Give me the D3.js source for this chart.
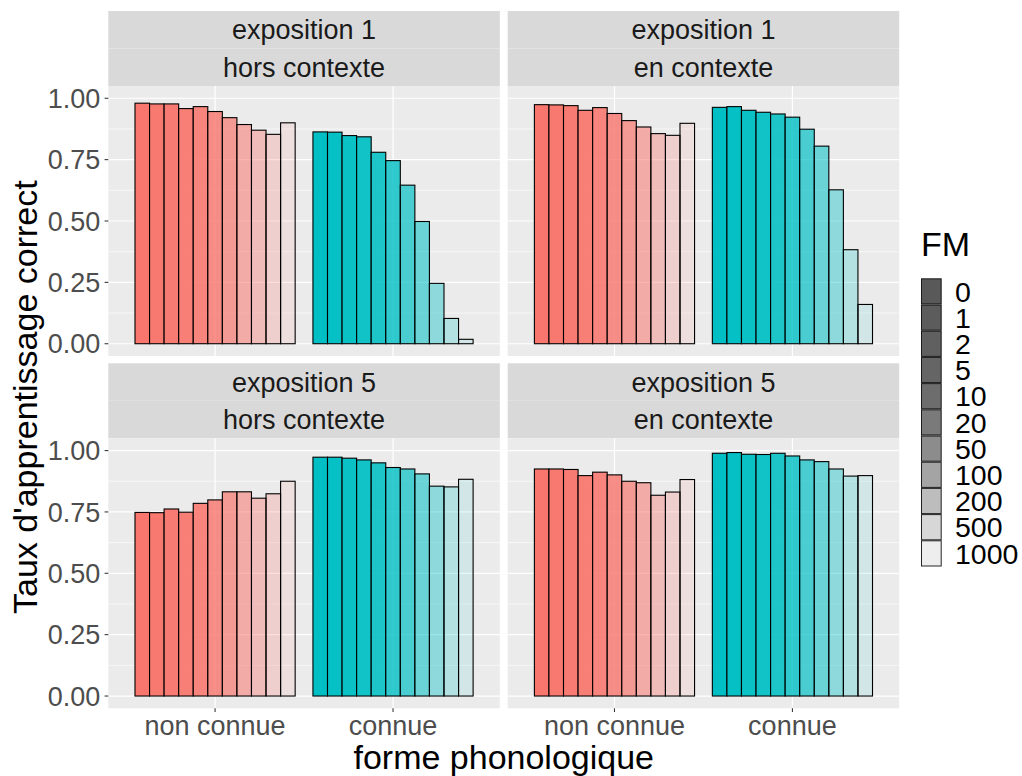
<!DOCTYPE html>
<html>
<head>
<meta charset="utf-8">
<script src="https://cdn.jsdelivr.net/npm/d3@7"></script>
<style>
  html, body { margin: 0; padding: 0; background: #ffffff; }
  svg { display: block; font-family: "Liberation Sans", Arial, Helvetica, sans-serif; }
</style>
</head>
<body>
<svg id="chart" width="1022" height="776"></svg>
<script>
// ---------- data ----------
const formes = ["non connue", "connue"];
const fmLevels = ["0", "1", "2", "5", "10", "20", "50", "100", "200", "500", "1000"];
const fmAlpha = [1, 0.98, 0.96, 0.93, 0.88, 0.8, 0.69, 0.55, 0.4, 0.24, 0.1];
const yTicks = [0, 0.25, 0.5, 0.75, 1];
const yTickLabels = ["0.00", "0.25", "0.50", "0.75", "1.00"];
const yMinor = [0.125, 0.375, 0.625, 0.875];
const formeColors = ["#F8766D", "#00BFC4"];

const stripExposition = ["exposition 1", "exposition 1", "exposition 5", "exposition 5"];
const stripContexte = ["hors contexte", "en contexte", "hors contexte", "en contexte"];

const e1HorsNonConnue = [0.980, 0.977, 0.977, 0.958, 0.966, 0.946, 0.921, 0.893, 0.870, 0.853, 0.900];
const e1HorsConnue    = [0.863, 0.862, 0.848, 0.843, 0.780, 0.746, 0.646, 0.498, 0.246, 0.103, 0.018];
const e1EnNonConnue   = [0.974, 0.973, 0.970, 0.951, 0.962, 0.938, 0.909, 0.883, 0.856, 0.849, 0.898];
const e1EnConnue      = [0.963, 0.966, 0.951, 0.943, 0.936, 0.923, 0.874, 0.805, 0.627, 0.383, 0.160];
const e5HorsNonConnue = [0.748, 0.747, 0.762, 0.749, 0.785, 0.799, 0.832, 0.832, 0.806, 0.824, 0.875];
const e5HorsConnue    = [0.973, 0.973, 0.969, 0.962, 0.950, 0.931, 0.925, 0.905, 0.855, 0.852, 0.883];
const e5EnNonConnue   = [0.925, 0.925, 0.923, 0.898, 0.912, 0.901, 0.875, 0.869, 0.818, 0.831, 0.882];
const e5EnConnue      = [0.989, 0.992, 0.985, 0.984, 0.989, 0.978, 0.962, 0.955, 0.925, 0.896, 0.898];

const panelData = [
  [e1HorsNonConnue, e1HorsConnue],
  [e1EnNonConnue, e1EnConnue],
  [e5HorsNonConnue, e5HorsConnue],
  [e5EnNonConnue, e5EnConnue]
];

// ---------- layout ----------
const svg = d3.select("#chart");
const panelLefts = [108.3, 507.7];
const rowTops = [11, 363.3];
const panelW = 391.5;
const stripH = 37.5;
const panelH = 270;
const smallFont = 27;
const legendFont = 28.5;
const bigFont = 34;

const x = d3.scaleBand().domain(formes).range([0, panelW]).paddingInner(0.1).paddingOuter(0.15);
const xInner = d3.scaleBand().domain(fmLevels).range([0, x.bandwidth()]).padding(0);
const y = d3.scaleLinear().domain([-0.05, 1.05]).range([panelH, 0]);

panelData.forEach((pd, p) => {
  const col = p % 2, row = Math.floor(p / 2);
  const left = panelLefts[col];
  const stripTop = rowTops[row];
  const top = stripTop + 2 * stripH;

  // strips
  const s = svg.append("g").attr("transform", `translate(${left},${stripTop})`);
  [stripExposition[p], stripContexte[p]].forEach((t, i) => {
    s.append("rect").attr("x", 0).attr("y", i * stripH).attr("width", panelW).attr("height", stripH)
      .attr("fill", "#D9D9D9");
    s.append("text").attr("x", panelW / 2).attr("y", i * stripH + stripH / 2).attr("dy", "0.36em")
      .attr("text-anchor", "middle").attr("font-size", smallFont).attr("fill", "#1A1A1A").text(t);
  });

  const g = svg.append("g").attr("transform", `translate(${left},${top})`);
  g.append("rect").attr("width", panelW).attr("height", panelH).attr("fill", "#EBEBEB");

  // grid
  g.selectAll(".ymin").data(yMinor).enter().append("line")
    .attr("x1", 0).attr("x2", panelW).attr("y1", d => y(d)).attr("y2", d => y(d))
    .attr("stroke", "#ffffff").attr("stroke-width", 0.6);
  g.selectAll(".ymaj").data(yTicks).enter().append("line")
    .attr("x1", 0).attr("x2", panelW).attr("y1", d => y(d)).attr("y2", d => y(d))
    .attr("stroke", "#ffffff").attr("stroke-width", 1.2);
  g.selectAll(".xmaj").data(formes).enter().append("line")
    .attr("y1", 0).attr("y2", panelH)
    .attr("x1", d => x(d) + x.bandwidth() / 2).attr("x2", d => x(d) + x.bandwidth() / 2)
    .attr("stroke", "#ffffff").attr("stroke-width", 1.2);

  // bars
  formes.forEach((f, fi) => {
    const vals = pd[fi];
    g.selectAll(null).data(vals).enter().append("rect")
      .attr("x", (d, i) => x(f) + xInner(fmLevels[i]))
      .attr("width", xInner.bandwidth())
      .attr("y", d => y(d))
      .attr("height", d => y(0) - y(d))
      .attr("fill", formeColors[fi])
      .attr("fill-opacity", (d, i) => fmAlpha[i])
      .attr("stroke", "#000000").attr("stroke-width", 1.1);
  });

  // y axis on left column
  if (col === 0) {
    const ay = g.append("g");
    yTicks.forEach((t, i) => {
      ay.append("line").attr("x1", -3.7).attr("x2", 0).attr("y1", y(t)).attr("y2", y(t))
        .attr("stroke", "#333333").attr("stroke-width", 1.07);
      ay.append("text").attr("x", -8).attr("y", y(t)).attr("dy", "0.36em")
        .attr("text-anchor", "end").attr("font-size", smallFont).attr("fill", "#4D4D4D")
        .text(yTickLabels[i]);
    });
  }
  // x axis on bottom row
  if (row === 1) {
    const ax = g.append("g").attr("transform", `translate(0,${panelH})`);
    formes.forEach(f => {
      const cx = x(f) + x.bandwidth() / 2;
      ax.append("line").attr("x1", cx).attr("x2", cx).attr("y1", 0).attr("y2", 3.7)
        .attr("stroke", "#333333").attr("stroke-width", 1.07);
      ax.append("text").attr("x", cx).attr("y", 27).attr("text-anchor", "middle")
        .attr("font-size", smallFont).attr("fill", "#4D4D4D").text(f);
    });
  }
});

// axis titles
svg.append("text").attr("x", (panelLefts[0] + panelLefts[1] + panelW) / 2).attr("y", 769)
  .attr("text-anchor", "middle").attr("font-size", bigFont).attr("fill", "#000").text("forme phonologique");
const yMid = (rowTops[0] + 2 * stripH + rowTops[1] + 2 * stripH + panelH) / 2;
svg.append("text").attr("transform", `translate(37,${yMid}) rotate(-90)`)
  .attr("text-anchor", "middle").attr("font-size", bigFont).attr("fill", "#000")
  .text("Taux d'apprentissage correct");

// legend
const lg = svg.append("g").attr("transform", "translate(921,0)");
lg.append("text").attr("x", 0).attr("y", 256).attr("font-size", bigFont).attr("fill", "#000").text("FM");
const keyH = 26.2, keyW = 20.7, keyTop = 278.3;
fmLevels.forEach((lvl, i) => {
  lg.append("rect").attr("x", 0.5).attr("y", keyTop + i * keyH + 0.5).attr("width", keyW - 1).attr("height", keyH - 1)
    .attr("fill", "#595959").attr("fill-opacity", fmAlpha[i])
    .attr("stroke", "#000").attr("stroke-width", 1).attr("stroke-opacity", 0.85);
  lg.append("text").attr("x", 34).attr("y", keyTop + i * keyH + keyH / 2).attr("dy", "0.36em")
    .attr("font-size", legendFont).attr("fill", "#000").text(lvl);
});
</script>
</body>
</html>
